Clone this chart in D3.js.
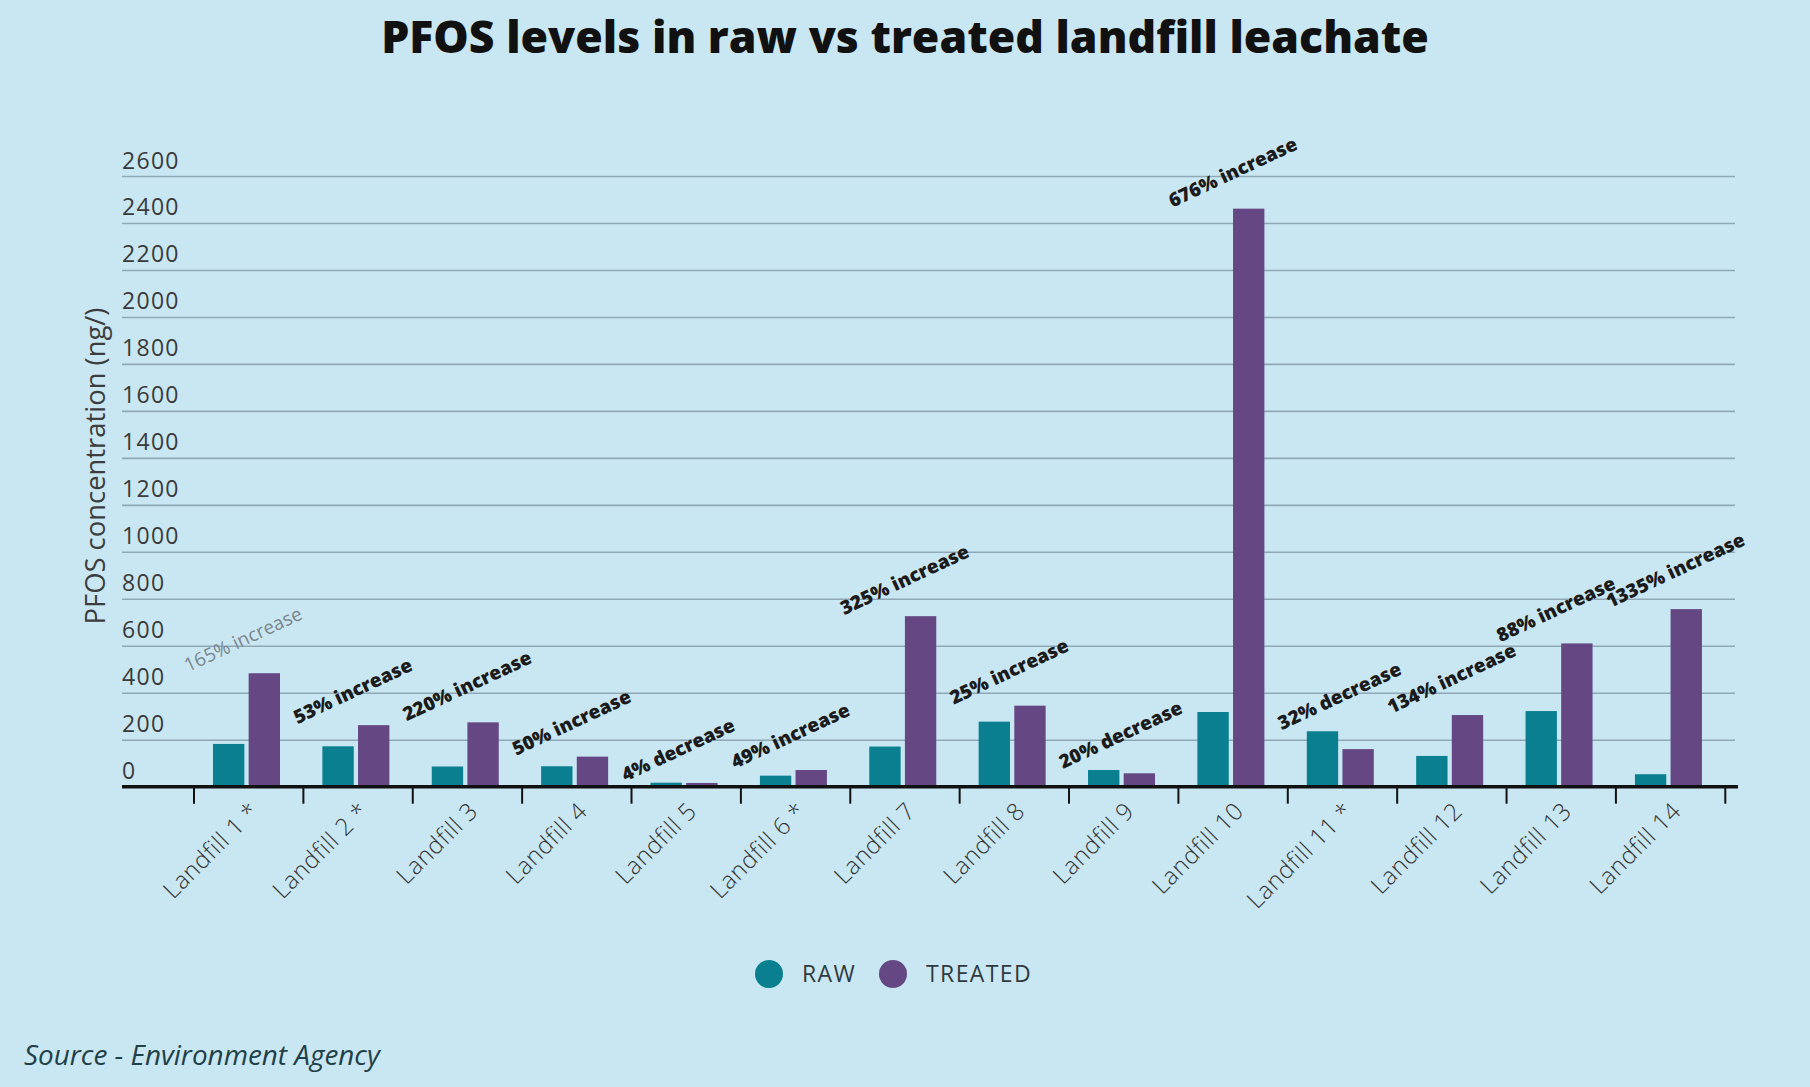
<!DOCTYPE html>
<html>
<head>
<meta charset="utf-8">
<script src="https://cdn.jsdelivr.net/npm/d3@7"></script>
<style>
  html, body { margin: 0; padding: 0; background: #c9e7f2; }
  svg { display: block; }
</style>
</head>
<body>
<svg id="vis"></svg>
<script>
// chart data
var landfills = ["Landfill 1 *", "Landfill 2 *", "Landfill 3", "Landfill 4", "Landfill 5",
    "Landfill 6 *", "Landfill 7", "Landfill 8", "Landfill 9", "Landfill 10",
    "Landfill 11 *", "Landfill 12", "Landfill 13", "Landfill 14"];
var rawValues = [182, 172, 86, 87, 17, 47, 171, 277, 71, 318, 236, 131, 322, 53];
var treatedValues = [483, 262, 274, 128, 16, 71, 726, 345, 57, 2461, 160, 305, 610, 756];
var changeLabels = ["165% increase", "53% increase", "220% increase", "50% increase", "4% decrease",
    "49% increase", "325% increase", "25% increase", "20% decrease", "676% increase",
    "32% decrease", "134% increase", "88% increase", "1335% increase"];
var yTicks = [0, 200, 400, 600, 800, 1000, 1200, 1400, 1600, 1800, 2000, 2200, 2400, 2600];
var seriesNames = ["RAW", "TREATED"];

var width = 1810;
var height = 1087;
var MARGINS = {top: 176, bottom: 300, left: 122, right: 72};
var colors = ["#0a7f8f", "#654784"];
var FONT = "'Open Sans', 'Liberation Sans', sans-serif";

window.onload = run;

function run() {
    var display = d3.select("#vis")
        .attr("width", width)
        .attr("height", height)
        .style("font-family", FONT);

    display.append("rect")
        .attr("width", width)
        .attr("height", height)
        .attr("fill", "#c9e7f2");

    var data = landfills.map(function (d, i) {
        return {name: d, raw: rawValues[i], treated: treatedValues[i], label: changeLabels[i]};
    });

    // scales
    var baseY = height - MARGINS.bottom - 0.3;
    var x = d3.scaleBand()
        .domain(landfills)
        .range([194, 1725.3]);
    var x1 = d3.scaleBand()
        .domain(seriesNames)
        .range([19, 86])
        .paddingInner(0.12);
    var y = d3.scaleLinear()
        .domain([0, 2600])
        .range([baseY, MARGINS.top]);

    // fit a text's font size so it spans a given width
    function fitWidth(sel, target) {
        var w = sel.node().getComputedTextLength();
        var fs = parseFloat(sel.style("font-size"));
        sel.style("font-size", (fs * target / w) + "px");
    }

    // title
    var title = display.append("text")
        .attr("x", width / 2)
        .attr("y", 53)
        .attr("text-anchor", "middle")
        .style("font-size", "42px")
        .style("font-weight", 800)
        .attr("fill", "#111")
        .text("PFOS levels in raw vs treated landfill leachate");
    fitWidth(title, 1048);

    // gridlines with labels sitting on top of them
    var yAxis = d3.axisLeft(y)
        .tickValues(yTicks)
        .tickSize(-(1735 - MARGINS.left))
        .tickFormat(d3.format("d"));
    var gy = display.append("g")
        .attr("transform", `translate(${MARGINS.left},0)`)
        .call(yAxis);
    gy.select(".domain").remove();
    gy.selectAll(".tick line")
        .attr("stroke", "#8ea8b6")
        .attr("stroke-width", 1.6)
        .filter(function (d) { return d === 0; }).remove();
    gy.selectAll(".tick text")
        .attr("x", 0)
        .attr("dy", "-8")
        .attr("text-anchor", "start")
        .attr("fill", "#3a3a3a")
        .style("font-family", FONT)
        .style("font-size", "23px")
        .style("letter-spacing", "1.3px");

    // y axis title
    var yTitle = display.append("text")
        .attr("transform", "translate(105,466) rotate(-90)")
        .attr("text-anchor", "middle")
        .attr("fill", "#3d3d3d")
        .style("font-size", "23px")
        .text("PFOS concentration (ng/)");
    fitWidth(yTitle, 317);

    // bars
    var groups = display.selectAll("g.landfill")
        .data(data)
        .enter()
        .append("g")
        .attr("class", "landfill")
        .attr("transform", function (d) { return `translate(${x(d.name)},0)`; });

    groups.selectAll("rect")
        .data(function (d) { return [{key: "RAW", v: d.raw}, {key: "TREATED", v: d.treated}]; })
        .enter()
        .append("rect")
        .attr("x", function (d) { return x1(d.key); })
        .attr("y", function (d) { return y(d.v); })
        .attr("width", x1.bandwidth())
        .attr("height", function (d) { return y(0) - y(d.v); })
        .attr("fill", function (d, i) { return colors[i]; });

    // change annotations
    display.selectAll("text.change")
        .data(data)
        .enter()
        .append("text")
        .attr("class", "change")
        .attr("transform", function (d) {
            return `translate(${x(d.name) - 6},${y(Math.max(d.raw, d.treated)) - 1}) rotate(-25)`;
        })
        .attr("fill", function (d, i) { return i === 0 ? "#7a858b" : "#1b1b1b"; })
        .style("font-size", "19px")
        .style("font-weight", function (d, i) { return i === 0 ? 400 : 800; })
        .text(function (d) { return d.label; });

    // x axis, ticks on the band edges
    var xAxis = d3.axisBottom(x).tickSize(0).tickPadding(0);
    var gx = display.append("g")
        .attr("transform", `translate(0,${baseY})`)
        .call(xAxis);
    gx.select(".domain").remove();
    gx.selectAll(".tick text")
        .attr("x", 6)
        .attr("y", 20)
        .attr("dy", "0.35em")
        .attr("text-anchor", "end")
        .attr("transform", "rotate(-45, 6, 20)")
        .attr("fill", "#333")
        .style("font-family", FONT)
        .style("font-size", "24px")
        .style("letter-spacing", "0.6px")
        .style("font-weight", 300);

    var edges = landfills.map(function (d) { return x(d); }).concat([x.range()[1]]);
    display.append("g")
        .selectAll("line")
        .data(edges)
        .enter()
        .append("line")
        .attr("x1", function (d) { return d; })
        .attr("x2", function (d) { return d; })
        .attr("y1", baseY)
        .attr("y2", baseY + 17)
        .attr("stroke", "#111")
        .attr("stroke-width", 2);

    display.append("line")
        .attr("x1", MARGINS.left)
        .attr("x2", 1738)
        .attr("y1", baseY)
        .attr("y2", baseY)
        .attr("stroke", "#111")
        .attr("stroke-width", 3.5);

    // legend
    var legendX = [769, 893];
    var legend = display.selectAll(".legend")
        .data(seriesNames)
        .enter()
        .append("g")
        .attr("class", "legend")
        .attr("transform", function (d, i) { return `translate(${legendX[i]},974)`; });
    legend.append("circle")
        .attr("r", 14)
        .attr("fill", function (d, i) { return colors[i]; });
    legend.append("text")
        .attr("x", 33)
        .attr("y", 8)
        .attr("fill", "#2f3a3f")
        .style("font-size", "23px")
        .style("letter-spacing", "1.4px")
        .text(function (d) { return d; });

    // source note
    var source = display.append("text")
        .attr("x", 24)
        .attr("y", 1065)
        .attr("fill", "#1f4048")
        .style("font-size", "23px")
        .style("font-style", "italic")
        .text("Source - Environment Agency");
    fitWidth(source, 356);
}
</script>
</body>
</html>
